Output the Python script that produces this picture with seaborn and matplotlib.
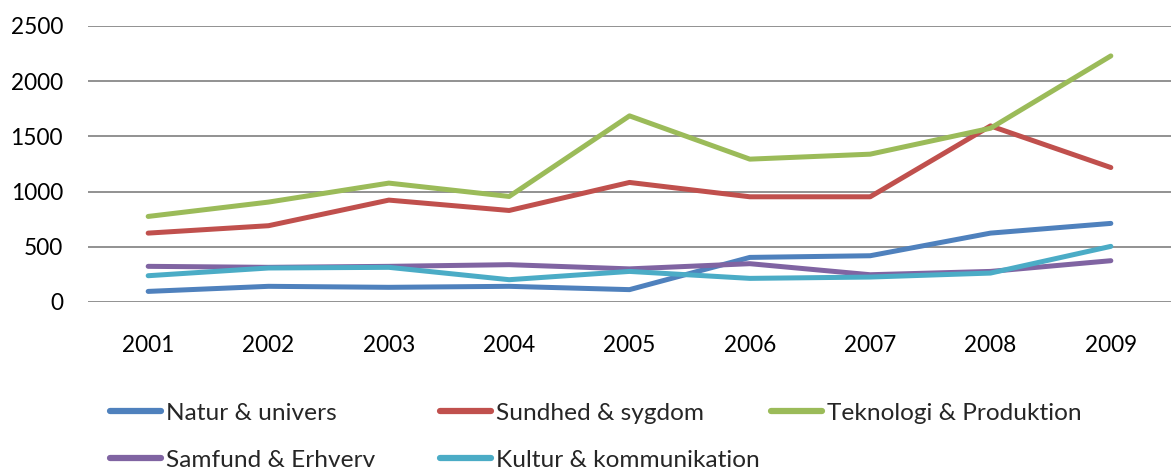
import matplotlib
matplotlib.use("Agg")
import matplotlib.pyplot as plt
import seaborn as sns
import pandas as pd

years = ["2001", "2002", "2003", "2004", "2005", "2006", "2007", "2008", "2009"]
natur = [96, 142, 133, 142, 112, 404, 419, 624, 712]
sundhed = [624, 691, 923, 829, 1083, 953, 953, 1595, 1218]
teknologi = [775, 905, 1077, 956, 1686, 1294, 1339, 1574, 2229]
samfund = [323, 314, 323, 338, 300, 347, 247, 277, 374]
kultur = [238, 308, 314, 202, 277, 214, 226, 262, 504]

series_names = ["Natur & univers", "Sundhed & sygdom", "Teknologi & Produktion",
                "Samfund & Erhverv", "Kultur & kommunikation"]
series_values = [natur, sundhed, teknologi, samfund, kultur]
colors = ["#4F81BD", "#C0504D", "#9BBB59", "#8064A2", "#4BACC6"]
yticks = [0, 500, 1000, 1500, 2000, 2500]

rows = []
for name, vals in zip(series_names, series_values):
    for yr, v in zip(years, vals):
        rows.append({"year": yr, "value": v, "series": name})
df = pd.DataFrame(rows)

sns.set_style("white")
plt.rcParams["font.family"] = ["Lato", "DejaVu Sans"]

fig = plt.figure(figsize=(11.71, 4.70), dpi=100)
ax = fig.add_axes([88 / 1171, 1 - 302 / 470, 1 - 88 / 1171, (302 - 26) / 470])

sns.lineplot(data=df, x="year", y="value", hue="series", hue_order=series_names,
             palette=colors, linewidth=3.6, sort=False, ax=ax, legend=True)

for line in ax.get_lines():
    line.set_solid_capstyle("round")
    line.set_solid_joinstyle("round")
    line.set_clip_on(False)

ax.set_xlim(-0.5, len(years) - 0.5)
ax.set_ylim(0, 2500)
ax.set_yticks(yticks)
ax.set_yticklabels([str(t) for t in yticks])
ax.yaxis.grid(True, color="#898989", linewidth=1.3)
ax.set_axisbelow(True)
ax.xaxis.grid(False)
for s in ax.spines.values():
    s.set_visible(False)
ax.tick_params(axis="x", length=0, pad=24, labelsize=16.3, colors="black")
ax.tick_params(axis="y", length=0, pad=18, labelsize=16.3, colors="black")
ax.set_xlabel("")
ax.set_ylabel("")

handles, labels = ax.get_legend_handles_labels()
ax.get_legend().remove()
hmap = dict(zip(labels, handles))

positions = [(110, 413), (440, 413), (771, 413), (110, 460), (440, 460)]
for name, (px, py) in zip(series_names, positions):
    h = hmap[name]
    h.set_linewidth(4.5)
    h.set_solid_capstyle("round")
    fig.legend([h], [name], loc="center left",
               bbox_to_anchor=(px / 1171, 1 - py / 470),
               bbox_transform=fig.transFigure,
               frameon=False, borderpad=0, borderaxespad=0,
               handlelength=2.1, handletextpad=0.2, fontsize=17.6)

fig.savefig("out.png", dpi=100)
